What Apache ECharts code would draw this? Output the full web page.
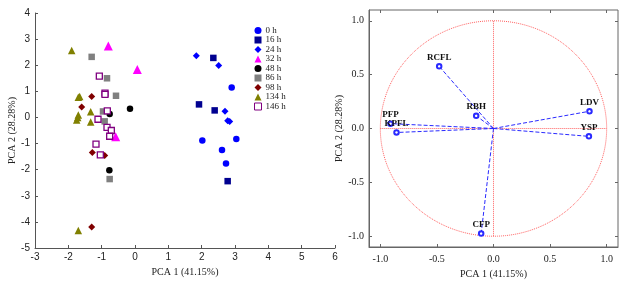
<!DOCTYPE html>
<html>
<head>
<meta charset="utf-8">
<script src="https://cdn.jsdelivr.net/npm/echarts@6/dist/echarts.min.js"></script>
<style>html,body{margin:0;padding:0;background:#fff}#main{width:626px;height:284px}</style>
</head>
<body>
<div id="main"></div>
<script>
// PCA scores (left) and loadings (right)
var dom = document.getElementById('main');
var myChart = echarts.init(dom);

var groups = ['0 h', '16 h', '24 h', '32 h', '48 h', '86 h', '98 h', '134 h', '146 h'];

var scores_0h = [[2.9, 1.15], [3.04, -0.83], [2.02, -0.88], [2.61, -1.25], [2.73, -1.76]];
var scores_16h = [[2.35, 2.28], [1.92, 0.5], [2.39, 0.27], [2.78, -2.44]];
var scores_24h = [[1.84, 2.36], [2.51, 1.99], [2.7, 0.24], [2.78, -0.13], [2.84, -0.16]];
var scores_32h = [[-0.8, 2.74], [0.07, 1.84], [-0.58, -0.74]];
var scores_48h = [[-0.15, 0.33], [-0.76, 0.13], [-0.77, -2.02]];
var scores_86h = [[-1.3, 2.32], [-0.84, 1.5], [-0.57, 0.83], [-0.96, 0.23], [-0.91, -0.15], [-0.76, -2.36]];
var scores_98h = [[-1.3, 0.8], [-1.6, 0.4], [-1.28, -1.34], [-0.91, -1.46], [-1.3, -4.2]];
var scores_134h = [[-1.9, 2.56], [-1.7, 0.77], [-1.66, 0.8], [-1.33, 0.22], [-1.7, 0.09], [-1.72, 0.0],
    [-1.75, -0.1], [-1.33, -0.17], [-1.7, -4.33]];
var scores_146h = [[-1.07, 1.58], [-0.9, 0.93], [-0.9, 0.88], [-0.83, 0.25], [-1.11, -0.07], [-0.84, -0.38],
    [-0.71, -0.5], [-0.76, -0.72], [-1.17, -1.02], [-1.04, -1.43]];

var loadNames = ['RCFL', 'RBH', 'PFP', 'KPFL', 'LDV', 'YSP', 'CFP'];
var loadX = [-0.48, -0.153, -0.91, -0.857, 0.848, 0.843, -0.109];
var loadY = [0.577, 0.118, 0.045, -0.037, 0.16, -0.073, -0.975];

var xTicksR = [-1.0, -0.5, 0.0, 0.5, 1.0];
var yTicksR = [-1.0, -0.5, 0.0, 0.5, 1.0];

var serif = '"Liberation Serif", "DejaVu Serif", serif';
var sans = '"Liberation Sans", Arial, sans-serif';

var styles = [
    {symbol: 'circle', size: 6.5, color: '#0000ff'},
    {symbol: 'rect', size: 6.5, color: '#000090'},
    {symbol: 'diamond', size: 7, color: '#0000ff'},
    {symbol: 'triangle', size: 9, color: '#ff00ff'},
    {symbol: 'circle', size: 6.5, color: '#000000'},
    {symbol: 'rect', size: 6.5, color: '#808080'},
    {symbol: 'diamond', size: 7, color: '#800000'},
    {symbol: 'triangle', size: 7.5, color: '#808000'},
    {symbol: 'rect', size: 6, color: '#ffffff', border: '#800080'}
];
var scoreSets = [scores_0h, scores_16h, scores_24h, scores_32h, scores_48h, scores_86h, scores_98h, scores_134h, scores_146h];

var series = [];
groups.forEach(function (g, i) {
    var s = styles[i];
    series.push({
        name: g,
        type: 'scatter',
        xAxisIndex: 0,
        yAxisIndex: 0,
        symbol: s.symbol,
        symbolSize: s.size,
        itemStyle: {
            color: s.color,
            borderColor: s.border || s.color,
            borderWidth: s.border ? 1.3 : 0,
            opacity: 1
        },
        data: scoreSets[i]
    });
});

// correlation circle of radius 1 (reference geometry, not data)
var circle = [];
for (var a = 0; a <= 360; a += 2) {
    circle.push([Math.cos(a * Math.PI / 180), Math.sin(a * Math.PI / 180)]);
}
var redLine = {color: '#ff6060', width: 1, type: [1, 1]};
series.push({type: 'line', xAxisIndex: 1, yAxisIndex: 1, data: circle, showSymbol: false, silent: true, lineStyle: redLine});
series.push({type: 'line', xAxisIndex: 1, yAxisIndex: 1, data: [[-1, 0], [1, 0]], showSymbol: false, silent: true, lineStyle: redLine});
series.push({type: 'line', xAxisIndex: 1, yAxisIndex: 1, data: [[0, -1], [0, 1]], showSymbol: false, silent: true, lineStyle: redLine});

loadNames.forEach(function (n, i) {
    series.push({
        type: 'line',
        xAxisIndex: 1,
        yAxisIndex: 1,
        data: [
            {value: [0, 0], symbol: 'none'},
            {value: [loadX[i], loadY[i]], label: {show: true, formatter: n}}
        ],
        symbol: 'emptyCircle',
        symbolSize: 4.5,
        showAllSymbol: true,
        lineStyle: {color: '#2a2aff', width: 1, type: [4, 2]},
        itemStyle: {color: '#2a2aff', borderWidth: 1},
        label: {
            show: false, position: 'top', distance: 1,
            fontFamily: serif, fontSize: 9, fontWeight: 'bold', color: '#111'
        },
        z: 5
    });
});

var legendData = groups.map(function (g, i) {
    return i === groups.length - 1 ? {name: g, itemStyle: {borderWidth: 1}} : {name: g};
});

option = {
    animation: false,
    backgroundColor: '#fff',
    legend: {
        data: legendData,
        orient: 'vertical',
        left: 254,
        top: 26,
        padding: 0,
        itemWidth: 7,
        itemHeight: 7,
        itemGap: 0.5,
        textStyle: {fontFamily: serif, fontSize: 9, lineHeight: 7, color: '#222', padding: [0, 0, 0, -1]}
    },
    grid: [
        {left: 35, right: 291, top: 13, bottom: 36},
        {left: 369, right: 8, top: 10, bottom: 33, show: true, borderColor: '#666', borderWidth: 1}
    ],
    xAxis: [
        {
            type: 'value', gridIndex: 0, min: -3, max: 6, interval: 1,
            name: 'PCA 1 (41.15%)', nameLocation: 'middle', nameGap: 19,
            nameTextStyle: {fontFamily: serif, fontSize: 10, color: '#222'},
            axisLine: {onZero: false, lineStyle: {color: '#555'}},
            axisTick: {inside: true, length: 3, lineStyle: {color: '#555'}},
            axisLabel: {fontFamily: sans, fontSize: 10, color: '#222', margin: 4},
            splitLine: {show: false}
        },
        {
            type: 'value', gridIndex: 1, min: -1.1, max: 1.1,
            name: 'PCA 1 (41.15%)', nameLocation: 'middle', nameGap: 22,
            nameTextStyle: {fontFamily: serif, fontSize: 10, color: '#222'},
            axisLine: {onZero: false, lineStyle: {color: '#666'}},
            axisTick: {inside: true, length: 3, customValues: xTicksR, lineStyle: {color: '#666'}},
            axisLabel: {fontFamily: serif, fontSize: 10, color: '#222', margin: 7, customValues: xTicksR,
                formatter: function (v) { return v.toFixed(1); }},
            splitLine: {show: false}
        },
        {
            type: 'value', gridIndex: 1, min: -1.1, max: 1.1, position: 'top',
            axisLine: {show: false, onZero: false},
            axisTick: {inside: true, length: 3, customValues: xTicksR, lineStyle: {color: '#666'}},
            axisLabel: {show: false},
            splitLine: {show: false}
        }
    ],
    yAxis: [
        {
            type: 'value', gridIndex: 0, min: -5, max: 4, interval: 1,
            name: 'PCA 2 (28.28%)', nameLocation: 'middle', nameGap: 16,
            nameTextStyle: {fontFamily: serif, fontSize: 10, color: '#222'},
            axisLine: {show: true, onZero: false, lineStyle: {color: '#555'}},
            axisTick: {show: true, inside: true, length: 3, lineStyle: {color: '#555'}},
            axisLabel: {fontFamily: sans, fontSize: 10, color: '#222', margin: 5},
            splitLine: {show: false}
        },
        {
            type: 'value', gridIndex: 1, min: -1.1, max: 1.1,
            name: 'PCA 2 (28.28%)', nameLocation: 'middle', nameGap: 25,
            nameTextStyle: {fontFamily: serif, fontSize: 10, color: '#222'},
            axisLine: {show: true, onZero: false, lineStyle: {color: '#666'}},
            axisTick: {show: true, inside: true, length: 3, customValues: yTicksR, lineStyle: {color: '#666'}},
            axisLabel: {fontFamily: serif, fontSize: 10, color: '#222', margin: 5, customValues: yTicksR,
                formatter: function (v) { return v.toFixed(1); }},
            splitLine: {show: false}
        },
        {
            type: 'value', gridIndex: 1, min: -1.1, max: 1.1, position: 'right',
            axisLine: {show: false, onZero: false},
            axisTick: {show: true, inside: true, length: 3, customValues: yTicksR, lineStyle: {color: '#666'}},
            axisLabel: {show: false},
            splitLine: {show: false}
        }
    ],
    series: series
};

myChart.setOption(option);
</script>
</body>
</html>
